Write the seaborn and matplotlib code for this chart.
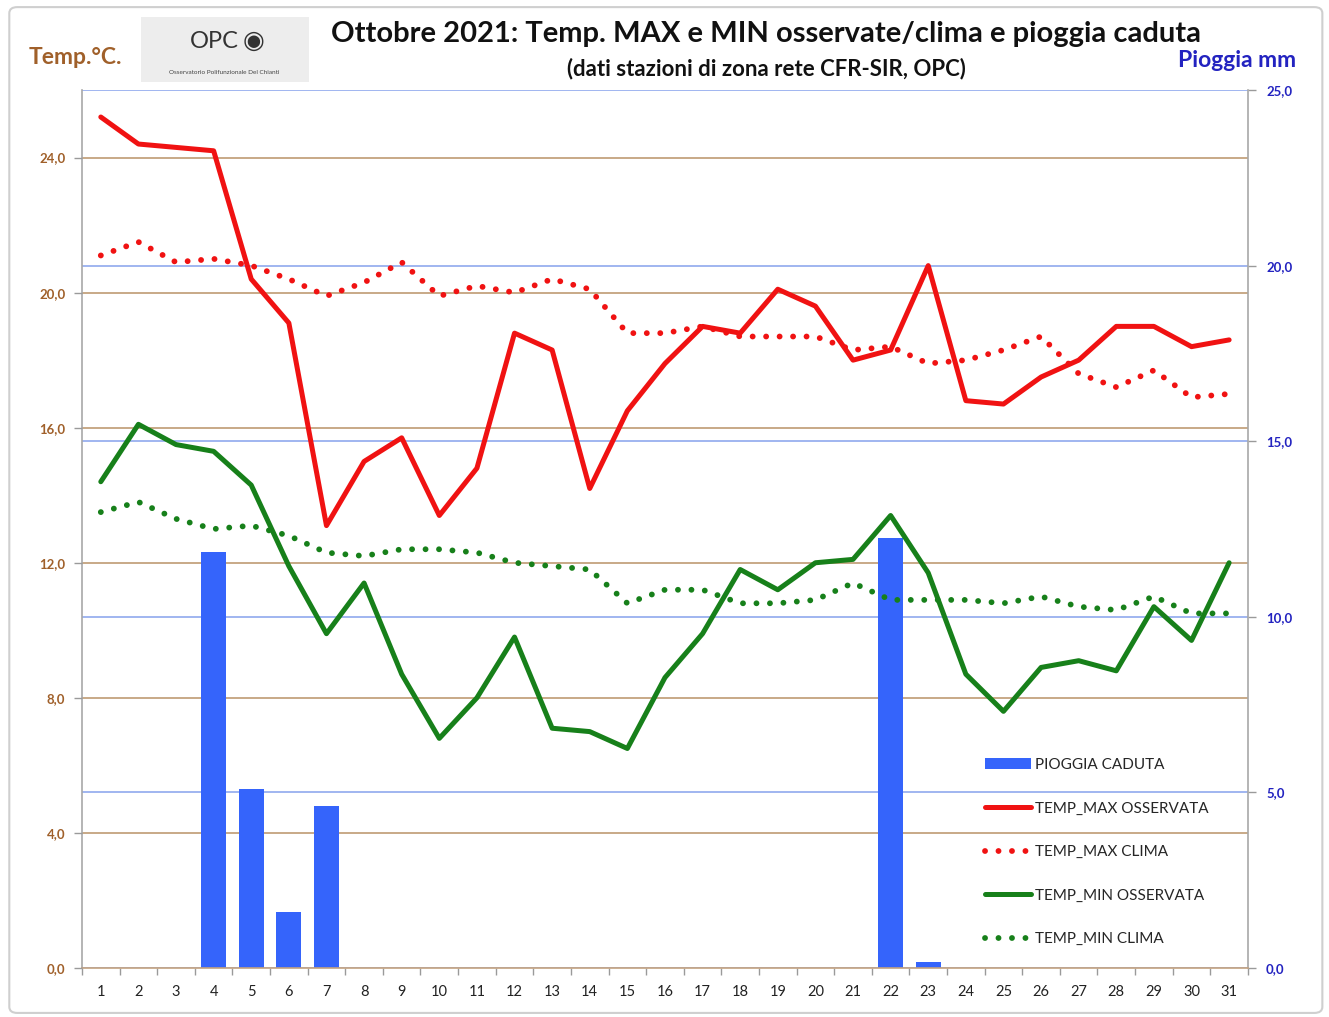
import numpy as np
import pandas as pd
import seaborn as sns
import matplotlib.pyplot as plt
from matplotlib.patches import FancyBboxPatch
from matplotlib.transforms import blended_transform_factory

# --- dati ---
giorni = list(range(1, 32))

temp_max_oss = [25.2, 24.4, 24.3, 24.2, 20.4, 19.1, 13.1, 15.0, 15.7, 13.4,
                14.8, 18.8, 18.3, 14.2, 16.5, 17.9, 19.0, 18.8, 20.1, 19.6,
                18.0, 18.3, 20.8, 16.8, 16.7, 17.5, 18.0, 19.0, 19.0, 18.4, 18.6]
temp_max_clima = [21.1, 21.5, 20.9, 21.0, 20.8, 20.4, 19.9, 20.3, 20.9, 19.9,
                  20.2, 20.0, 20.4, 20.1, 18.8, 18.8, 19.0, 18.7, 18.7, 18.7,
                  18.3, 18.4, 17.9, 18.0, 18.3, 18.7, 17.6, 17.2, 17.7, 16.9, 17.0]
temp_min_oss = [14.4, 16.1, 15.5, 15.3, 14.3, 11.9, 9.9, 11.4, 8.7, 6.8,
                8.0, 9.8, 7.1, 7.0, 6.5, 8.6, 9.9, 11.8, 11.2, 12.0,
                12.1, 13.4, 11.7, 8.7, 7.6, 8.9, 9.1, 8.8, 10.7, 9.7, 12.0]
temp_min_clima = [13.5, 13.8, 13.3, 13.0, 13.1, 12.8, 12.3, 12.2, 12.4, 12.4,
                  12.3, 12.0, 11.9, 11.8, 10.8, 11.2, 11.2, 10.8, 10.8, 10.9,
                  11.4, 10.9, 10.9, 10.9, 10.8, 11.0, 10.7, 10.6, 11.0, 10.5, 10.5]
pioggia = [0, 0, 0, 11.85, 5.1, 1.6, 4.6, 0, 0, 0,
           0, 0, 0, 0, 0, 0, 0, 0, 0, 0,
           0, 12.25, 0.18, 0, 0, 0, 0, 0, 0, 0, 0]

temp_ticks = [0, 4, 8, 12, 16, 20, 24]
temp_tick_labels = ["0,0", "4,0", "8,0", "12,0", "16,0", "20,0", "24,0"]
rain_ticks = [0, 5, 10, 15, 20, 25]
rain_tick_labels = ["0,0", "5,0", "10,0", "15,0", "20,0", "25,0"]

df = pd.DataFrame({
    "giorno": giorni,
    "max_oss": temp_max_oss,
    "max_clima": temp_max_clima,
    "min_oss": temp_min_oss,
    "min_clima": temp_min_clima,
    "pioggia": pioggia,
})

sns.set_style("white")
plt.rcParams['font.family'] = ['Lato', 'DejaVu Sans']

BROWN_TXT = "#a0602a"
BLUE_TXT = "#2323c0"
BROWN_GRID = "#c4a27e"
BLUE_GRID = "#86a2ec"
RED = "#f01212"
GREEN = "#17801a"
BAR = "#3564fb"

fig = plt.figure(figsize=(13.29, 10.17), dpi=100)
ax = fig.add_axes([0.0617, 0.0482, 0.8773, 0.8633])

# pioggia (asse destro) sotto
sns.barplot(data=df, x="giorno", y="pioggia", native_scale=True, width=0.67,
            color=BAR, saturation=1, errorbar=None, linewidth=0,
            label="PIOGGIA CADUTA", ax=ax, zorder=1)
ax.set_ylim(0, 25)
ax.set_xlim(0.5, 31.5)
ax.set_axisbelow(True)
ax.yaxis.grid(True, color=BLUE_GRID, lw=1.1)
ax.xaxis.grid(False)

# temperature (asse sinistro) sopra
ax2 = ax.twinx()
ax2.set_ylim(0, 26)

# griglia marrone della temperatura, dietro le barre
trans = blended_transform_factory(ax.transAxes, ax2.transData)
ax.hlines(temp_ticks[1:], 0, 1, transform=trans, colors=BROWN_GRID, lw=1.3, zorder=0.6)

dots = (0, (0.01, 2.3))
sns.lineplot(data=df, x="giorno", y="max_oss", color=RED, lw=3.6,
             label="TEMP_MAX OSSERVATA", ax=ax2)
sns.lineplot(data=df, x="giorno", y="max_clima", color=RED, lw=4.2,
             linestyle=dots, dash_capstyle="round", label="TEMP_MAX CLIMA", ax=ax2)
sns.lineplot(data=df, x="giorno", y="min_oss", color=GREEN, lw=3.6,
             label="TEMP_MIN OSSERVATA", ax=ax2)
sns.lineplot(data=df, x="giorno", y="min_clima", color=GREEN, lw=4.2,
             linestyle=dots, dash_capstyle="round", label="TEMP_MIN CLIMA", ax=ax2)
ax2.set_xlim(0.5, 31.5)
ax2.set_ylim(0, 26)

for a in (ax, ax2):
    a.set_xlabel("")
    a.set_ylabel("")

# assi e tick
ax.set_xticks(giorni)
ax.set_xticklabels([str(g) for g in giorni])
ax.set_xticks(np.arange(0.5, 32, 1), minor=True)
ax.tick_params(axis='x', which='major', length=0, pad=12, labelsize=10.5, labelcolor="#222222")
ax.tick_params(axis='x', which='minor', length=5, width=1, color="#9a9a9a", direction='out', bottom=True)

ax.set_yticks(rain_ticks)
ax.set_yticklabels(rain_tick_labels, fontweight='bold')
ax.tick_params(axis='y', length=6, width=1, color="#9a9a9a", direction='out', pad=7,
               labelsize=9.5, labelcolor=BLUE_TXT, left=False, labelleft=False,
               right=True, labelright=True)
ax2.set_yticks(temp_ticks)
ax2.set_yticklabels(temp_tick_labels, fontweight='bold')
ax2.tick_params(axis='y', length=6, width=1, color="#9a9a9a", direction='out', pad=6,
                labelsize=9.5, labelcolor=BROWN_TXT, left=True, labelleft=True,
                right=False, labelright=False)

for s in ax2.spines.values():
    s.set_visible(False)
ax.spines['top'].set_visible(False)
ax.spines['left'].set_color("#a8a8a8")
ax.spines['right'].set_color("#a8a8a8")
ax.spines['bottom'].set_color(BROWN_GRID)
for s in ('left', 'right', 'bottom'):
    ax.spines[s].set_linewidth(1.2)

# legenda
h1, l1 = ax.get_legend_handles_labels()
h2, l2 = ax2.get_legend_handles_labels()
if ax.get_legend():
    ax.get_legend().remove()
ax2.legend(h1 + h2, l1 + l2, loc='upper left', bbox_to_anchor=(0.731, 0.268),
           bbox_transform=fig.transFigure, frameon=False, fontsize=11,
           handlelength=3.0, handletextpad=0.25, labelspacing=1.93)

# titoli ed etichette
fig.text(0.5766, 0.9666, "Ottobre 2021: Temp. MAX e MIN osservate/clima e pioggia caduta",
         ha='center', va='center', fontsize=21, fontweight='bold', color="#111111")
fig.text(0.577, 0.933, "(dati stazioni di zona rete CFR-SIR, OPC)",
         ha='center', va='center', fontsize=16, fontweight='bold', color="#111111")
fig.text(0.057, 0.943, "Temp.°C.", ha='center', va='center', fontsize=16.5,
         fontweight='bold', color=BROWN_TXT)
fig.text(0.931, 0.941, "Pioggia mm", ha='center', va='center', fontsize=16.5,
         fontweight='bold', color=BLUE_TXT)

# logo OPC
fig.patches.append(FancyBboxPatch((0.106, 0.9194), 0.1264, 0.0639,
                                  boxstyle="square,pad=0", transform=fig.transFigure,
                                  facecolor="#ededed", edgecolor="none", zorder=0))
fig.text(0.161, 0.959, "OPC", ha='center', va='center', fontsize=17, color="#333333")
fig.text(0.191, 0.960, "◉", ha='center', va='center', fontsize=18, color="#333333",
         family=['DejaVu Sans'])
fig.text(0.169, 0.929, "Osservatorio Polifunzionale Del Chianti", ha='center',
         va='center', fontsize=4.6, color="#444444")

# cornice esterna
fig.patches.append(FancyBboxPatch((0.007, 0.004), 0.988, 0.989,
                                  boxstyle="round,pad=0,rounding_size=0.006",
                                  transform=fig.transFigure, facecolor="none",
                                  edgecolor="#cfcfcf", lw=1.5, zorder=0))

fig.savefig("out.png", dpi=100)
